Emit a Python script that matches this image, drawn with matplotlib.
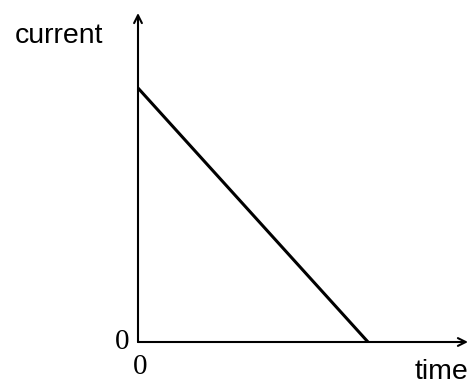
import matplotlib
matplotlib.use('Agg')
from matplotlib import pyplot as plt

# current falls linearly from its start value to zero
time = [0.0, 0.697]
current = [0.772, 0.0]
tick_labels = ['0']

fig = plt.figure(figsize=(4.71, 3.85), dpi=100)
ax = fig.add_axes([138 / 471, 43 / 385, 330 / 471, 329 / 385])
ax.set_xlim(0, 1)
ax.set_ylim(0, 1)
for s in ax.spines.values():
    s.set_visible(False)
ax.set_xticks([])
ax.set_yticks([])

# axes with open arrow heads
arrow = dict(arrowstyle='->', color='black', lw=1.5, mutation_scale=14,
             shrinkA=0, shrinkB=0)
ax.annotate('', xy=(1, 0), xytext=(0, 0), xycoords='axes fraction',
            arrowprops=arrow, annotation_clip=False)
ax.annotate('', xy=(0, 1), xytext=(0, 0), xycoords='axes fraction',
            arrowprops=arrow, annotation_clip=False)

ax.plot(time, current, color='black', lw=2.2, solid_capstyle='butt', clip_on=False)

ax.text(-0.048, 0.0, tick_labels[0], transform=ax.transAxes, ha='center', va='center',
        fontsize=21, family='Liberation Serif')
ax.text(0.005, -0.035, tick_labels[0], transform=ax.transAxes, ha='center', va='top',
        fontsize=21, family='Liberation Serif')
ax.text(-0.373, 0.93, 'current', transform=ax.transAxes, ha='left', va='center',
        fontsize=20.5, family='Liberation Sans')
ax.text(1.0, -0.09, 'time', transform=ax.transAxes, ha='right', va='center',
        fontsize=20.5, family='Liberation Sans')

fig.savefig('out.png', dpi=100)
